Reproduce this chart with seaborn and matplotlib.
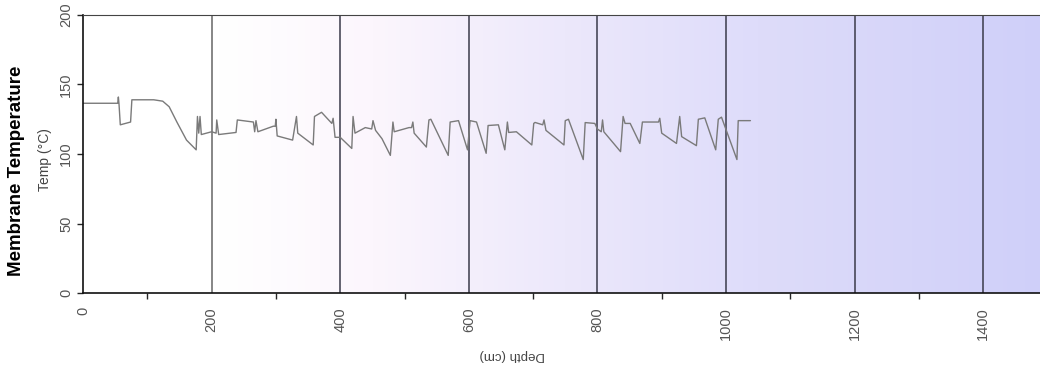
import matplotlib
matplotlib.use('Agg')
import matplotlib.pyplot as plt
from matplotlib.colors import LinearSegmentedColormap
from matplotlib.ticker import MultipleLocator
import seaborn as sns
import numpy as np
import pandas as pd

# valeurs
depth = [0, 54, 55, 56, 58, 74, 76, 110, 124, 134, 146, 161, 176, 178, 180, 182, 184,
         200, 207, 208, 211, 238, 240, 265, 267, 269, 272, 296, 299, 300, 302, 326,
         332, 334, 358, 360, 371, 387, 389, 392, 400, 418, 420, 423, 439, 449, 451,
         455, 465, 478, 482, 484, 507, 511, 513, 515, 534, 538, 541, 568, 571, 584,
         598, 602, 612, 627, 630, 646, 656, 660, 662, 674, 698, 701, 703, 715, 717,
         720, 748, 750, 755, 778, 781, 796, 800, 806, 808, 810, 836, 840, 843, 851,
         866, 870, 895, 897, 900, 923, 928, 931, 954, 957, 967, 984, 988, 993, 1017,
         1019, 1038]
temp = [136.5, 136.5, 141, 136, 121, 123, 139, 139, 138, 134, 123, 110, 103, 127, 115,
        127, 114, 116, 115, 124.5, 114, 115.5, 124.5, 123, 116, 124, 116, 120, 120,
        125, 113, 110, 127, 115, 106.5, 127, 130, 122, 125.7, 112, 112, 104, 127, 115,
        119, 118, 124, 117, 111, 99, 123, 116, 119, 119, 123, 115, 105, 124.5, 125, 99,
        123, 124, 103, 124, 123, 100.5, 120.5, 121, 103, 123, 115.5, 116, 106.5, 122,
        122.7, 121, 124.5, 117, 106.5, 124, 125, 96, 122.6, 122, 118, 116, 124.5, 116,
        101.7, 127, 122, 122, 107.6, 123, 123, 125.7, 115, 107.6, 127, 112.5, 106, 125,
        126, 103, 125, 126.5, 96, 124, 124]
x_ticks = [0, 200, 400, 600, 800, 1000, 1200, 1400]
y_ticks = [0, 50, 100, 150, 200]

df = pd.DataFrame({'Depth': depth, 'Temp': temp})

sns.set_style('white')
plt.rcParams['font.family'] = ['Liberation Sans', 'DejaVu Sans']

fig = plt.figure(figsize=(10.4, 3.74), dpi=100)
ax = fig.add_axes([83 / 1040, 1 - 293 / 374, 964.5 / 1040, 278 / 374])

# fond en dégradé blanc -> lavande
cmap = LinearSegmentedColormap.from_list('fond', [
    (0.0, '#ffffff'), (0.14, '#ffffff'), (0.3, '#fcf6fd'),
    (0.5, '#ece8fb'), (0.7, '#dedcfa'), (1.0, '#cfcff9')])
grad = np.linspace(0, 1, 256).reshape(1, -1)
ax.imshow(grad, extent=[0, 1500, 0, 200], aspect='auto', cmap=cmap, zorder=0)

for xv in x_ticks[1:]:
    ax.axvline(xv, color='#666666' if xv == 200 else '#3a3a4a', lw=1.1, zorder=1)

sns.lineplot(data=df, x='Depth', y='Temp', ax=ax, color='#7a7a7a', lw=1, zorder=2)

ax.set_xlim(0, 1500)
ax.set_ylim(0, 200)
ax.set_xticks(x_ticks)
ax.set_yticks(y_ticks)
ax.xaxis.set_minor_locator(MultipleLocator(100))
ax.tick_params(axis='x', which='major', direction='inout', length=8, width=1,
               labelrotation=90, labelsize=10.5, labelcolor='#555555', pad=6)
ax.tick_params(axis='x', which='minor', direction='out', length=4, width=1, bottom=True)
ax.tick_params(axis='y', direction='out', length=4, width=1, left=True,
               labelrotation=90, labelsize=10.5, labelcolor='#555555', pad=3)
for lab in ax.get_yticklabels():
    lab.set_va('center')

for s in ['left', 'bottom']:
    ax.spines[s].set_color('#111111')
    ax.spines[s].set_linewidth(1.2)
ax.spines['top'].set_color('#444444')
ax.spines['right'].set_visible(False)

ax.set_xlabel('')
ax.set_ylabel('')
fig.text(512 / 1040, 1 - 355 / 374, 'Depth (cm)', rotation=180, ha='center', va='center',
         fontsize=9.5, color='#444444')
fig.text(45 / 1040, 1 - 160 / 374, 'Temp (°C)', rotation=90, ha='center', va='center',
         fontsize=10, color='#444444')
fig.text(17 / 1040, 1 - 171 / 374, 'Membrane Temperature', rotation=90, ha='center',
         va='center', fontsize=13.5, fontweight='bold', color='black')

fig.savefig('out.png', dpi=100)
